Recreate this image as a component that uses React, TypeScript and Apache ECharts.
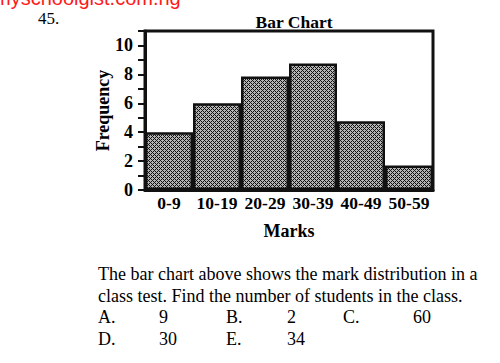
import React, { useEffect, useRef } from "react";
import * as echarts from "echarts";

const categories = ["0-9", "10-19", "20-29", "30-39", "40-49", "50-59"];
const frequencies = [4, 6, 7.85, 8.75, 4.75, 1.7];
const yTickLabels = [0, 2, 4, 6, 8, 10];
const questionLines = [
  "The bar chart above shows the mark distribution in a",
  "class test. Find the number of students in the class.",
];
const optionLabels = ["A.", "9", "B.", "2", "C.", "60", "D.", "30", "E.", "34"];

function makePattern(): HTMLCanvasElement {
  const c = document.createElement("canvas");
  c.width = 4;
  c.height = 4;
  const ctx = c.getContext("2d")!;
  ctx.fillStyle = "#b4b4b4";
  ctx.fillRect(0, 0, 4, 4);
  ctx.fillStyle = "#111";
  for (let x = 0; x < 4; x++) {
    for (let y = 0; y < 4; y++) {
      if ((x + y) % 4 === 0 || (x - y + 4) % 4 === 0) ctx.fillRect(x, y, 1, 1);
    }
  }
  return c;
}

export default function App() {
  const ref = useRef<HTMLDivElement>(null);
  useEffect(() => {
    if (!ref.current) return;
    const chart = echarts.init(ref.current, null, { renderer: "svg" });
    const serif = "'Liberation Serif', 'Times New Roman', serif";
    const optXs = [98, 159, 226, 287, 343, 413];
    const graphics: any[] = [
      {
        type: "text",
        left: -6,
        top: -12,
        style: { text: "myschoolgist.com.ng", fill: "#ff1a1a", font: "20px 'Liberation Sans', Arial, sans-serif" },
      },
      {
        type: "text",
        left: 38,
        top: 10,
        style: { text: "45.", fill: "#000", font: `17px ${serif}` },
      },
    ];
    questionLines.forEach((t, i) => {
      graphics.push({
        type: "text",
        left: 98,
        top: 265 + i * 22,
        style: { text: t, fill: "#000", font: `18px ${serif}` },
      });
    });
    optionLabels.forEach((t, i) => {
      const row = Math.floor(i / 6);
      const col = i % 6;
      graphics.push({
        type: "text",
        left: optXs[col],
        top: 308 + row * 22,
        style: { text: t, fill: "#000", font: `18px ${serif}` },
      });
    });
    chart.setOption({
      animation: false,
      title: {
        text: "Bar Chart",
        left: 289,
        top: 8,
        textAlign: "center",
        textStyle: { fontFamily: serif, fontWeight: "bold", fontSize: 17.5, color: "#000" },
      },
      grid: {
        left: 145,
        right: 67,
        top: 31,
        bottom: 173,
        show: true,
        borderColor: "#111",
        borderWidth: 3,
        backgroundColor: "transparent",
      },
      xAxis: {
        type: "category",
        data: categories,
        name: "Marks",
        nameLocation: "middle",
        nameGap: 32,
        nameMoveOverlap: false,
        nameTextStyle: { fontFamily: serif, fontWeight: "bold", fontSize: 18, color: "#000" },
        axisTick: { show: false },
        axisLine: { lineStyle: { color: "#111", width: 3 } },
        axisLabel: { fontFamily: serif, fontWeight: "bold", fontSize: 17.5, color: "#000", margin: 4, interval: 0 },
      },
      yAxis: {
        type: "value",
        min: 0,
        max: 11,
        interval: 1,
        name: "Frequency",
        nameLocation: "middle",
        nameRotate: 90,
        nameGap: 33,
        nameMoveOverlap: false,
        nameTextStyle: { fontFamily: serif, fontWeight: "bold", fontSize: 18, color: "#000" },
        splitLine: { show: false },
        axisLine: { show: true, lineStyle: { color: "#111", width: 3 } },
        axisTick: { show: true, inside: false, length: 7, lineStyle: { color: "#111", width: 2 } },
        axisLabel: {
          fontFamily: serif,
          fontWeight: "bold",
          fontSize: 18,
          color: "#000",
          margin: 12,
          formatter: (v: number) => (yTickLabels.includes(v) ? String(v) : ""),
        },
      },
      series: [
        {
          type: "bar",
          data: frequencies,
          barCategoryGap: "0%",
          itemStyle: {
            color: { image: makePattern(), repeat: "repeat" },
            borderColor: "#111",
            borderWidth: 2.5,
          },
        },
      ],
      graphic: graphics,
    });
    return () => chart.dispose();
  }, []);
  return (
    <div
      ref={ref}
      style={{ position: "absolute", left: 0, top: 0, width: 500, height: 363, background: "#fff" }}
    />
  );
}
